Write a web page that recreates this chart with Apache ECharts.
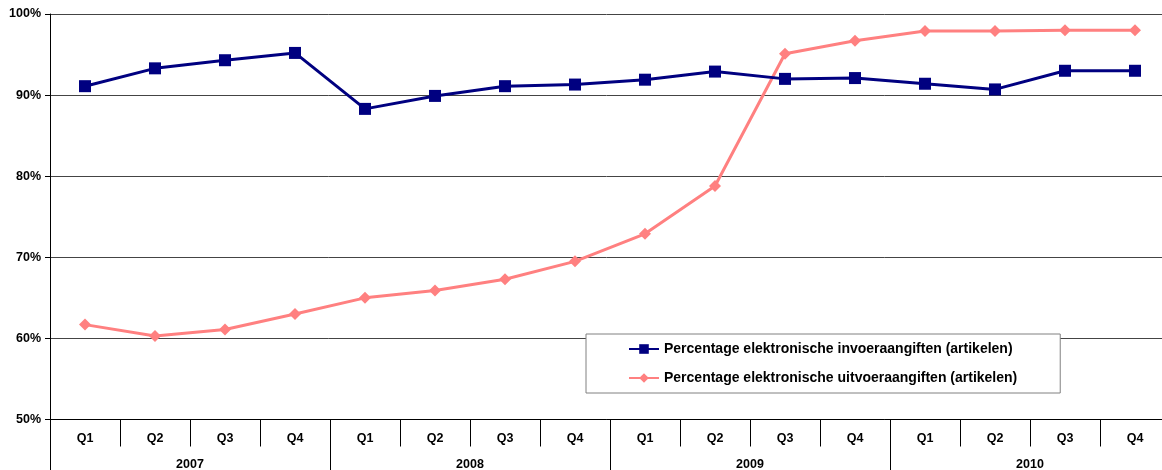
<!DOCTYPE html>
<html>
<head>
<meta charset="utf-8">
<script src="https://cdn.jsdelivr.net/npm/echarts@6/dist/echarts.min.js"></script>
<style>
html,body{margin:0;padding:0;background:#fff;}
#c{width:1162px;height:470px;}
</style>
</head>
<body>
<div id="c"></div>
<script>
var quarters = ['Q1','Q2','Q3','Q4','Q1','Q2','Q3','Q4','Q1','Q2','Q3','Q4','Q1','Q2','Q3','Q4'];
var years = ['2007','2008','2009','2010'];
var invoer = [91.1, 93.3, 94.3, 95.2, 88.3, 89.9, 91.1, 91.3, 91.9, 92.9, 92.0, 92.1, 91.4, 90.7, 93.0, 93.0];
var uitvoer = [61.7, 60.3, 61.1, 63.0, 65.0, 65.9, 67.3, 69.5, 72.9, 78.8, 95.1, 96.7, 97.9, 97.9, 98.0, 98.0];
var seriesNames = ['Percentage elektronische invoeraangiften (artikelen)', 'Percentage elektronische uitvoeraangiften (artikelen)'];

var chart = echarts.init(document.getElementById('c'));
var font = 'Liberation Sans, Arial, sans-serif';
chart.setOption({
  animation: false,
  textStyle: {fontFamily: font},
  grid: {left: 50, top: 14, width: 1120, height: 405.5, outerBoundsMode: 'none', containLabel: false},
  legend: {
    orient: 'vertical',
    left: 586, top: 334,
    padding: [8, 43, 8, 42],
    itemGap: 15,
    itemWidth: 30, itemHeight: 12,
    borderColor: '#808080', borderWidth: 1,
    backgroundColor: '#fff',
    textStyle: {fontFamily: font, fontSize: 14, fontWeight: 'bold', color: '#000'},
    data: seriesNames
  },
  xAxis: [{
    type: 'category',
    data: quarters,
    boundaryGap: true,
    axisLine: {show: true, lineStyle: {color: '#000', width: 1}},
    axisTick: {show: true, interval: 0, length: 27, lineStyle: {color: '#000', width: 1}},
    axisLabel: {interval: 0, margin: 13, fontSize: 12.5, fontWeight: 'bold', color: '#000', fontFamily: font}
  }, {
    type: 'category',
    data: years,
    position: 'bottom',
    boundaryGap: true,
    axisLine: {show: false},
    axisTick: {show: true, interval: 0, length: 52, lineStyle: {color: '#000', width: 1}},
    axisLabel: {interval: 0, margin: 39, fontSize: 12.5, fontWeight: 'bold', color: '#000', fontFamily: font}
  }],
  yAxis: {
    type: 'value',
    min: 50, max: 100, interval: 10,
    axisLine: {show: true, lineStyle: {color: '#000'}},
    axisTick: {show: true, length: 5, lineStyle: {color: '#000'}},
    axisLabel: {formatter: '{value}%', margin: 9, fontSize: 12.5, fontWeight: 'bold', color: '#000', fontFamily: font},
    splitLine: {lineStyle: {color: '#444', width: 1}}
  },
  series: [{
    name: seriesNames[0],
    type: 'line',
    xAxisIndex: 0,
    data: invoer,
    symbol: 'rect',
    symbolSize: 12,
    lineStyle: {color: '#000080', width: 3},
    itemStyle: {color: '#000080'},
    z: 3
  }, {
    name: seriesNames[1],
    type: 'line',
    xAxisIndex: 0,
    data: uitvoer,
    symbol: 'diamond',
    symbolSize: 12,
    lineStyle: {color: '#FF8080', width: 3},
    itemStyle: {color: '#FF8080'},
    z: 2
  }]
});
</script>
</body>
</html>
